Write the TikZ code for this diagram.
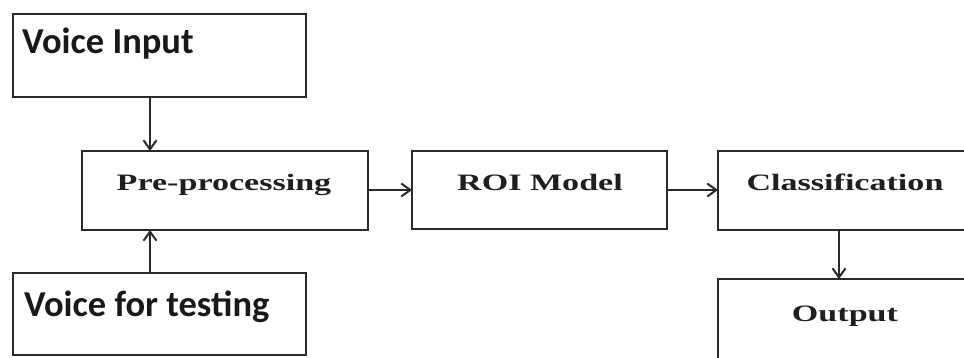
\documentclass[tikz,border=0pt]{standalone}
\usepackage{fontspec}
\usepackage{graphicx}
\usetikzlibrary{arrows.meta}
\newfontfamily\boxsans{Carlito}
\newfontfamily\boxserif{Liberation Serif}
\definecolor{ink}{HTML}{2A2A2A}
\newcommand\widetxt[1]{\scalebox{1.45}[1]{#1}}
\tikzset{
  box/.style={draw=ink, line width=2.3pt, anchor=north west, inner sep=0pt, outer sep=0pt},
  sanslab/.style={font=\boxsans\bfseries\fontsize{36.5pt}{40pt}\selectfont, text=black!90, inner sep=0pt, anchor=base west},
  seriflab/.style={font=\boxserif\bfseries\fontsize{23.5pt}{28pt}\selectfont, text=black!88, inner sep=0pt, anchor=base},
  arr/.style={draw=ink, line width=2pt, -{Straight Barb[length=9pt,width=13pt,line width=2pt]}}
}
\begin{document}
\begin{tikzpicture}[x=1pt,y=-1pt]
\useasboundingbox (0,0) rectangle (964,358);
\clip (0,0) rectangle (964,358);
\fill[white] (0,0) rectangle (964,358);
% boxes
\node[box, minimum width=293pt, minimum height=83pt] (vin) at (13,14) {};
\node[box, minimum width=286pt, minimum height=79pt] (pre) at (82,151) {};
\node[box, minimum width=255pt, minimum height=78pt] (roi) at (412,151) {};
\node[box, minimum width=280pt, minimum height=79pt] (cls) at (718,151) {};
\node[box, minimum width=280pt, minimum height=110pt] (out) at (718,279) {};
\node[box, minimum width=293pt, minimum height=82pt] (vts) at (13,273) {};
% labels
\node[sanslab] (vinT) at (22,54) {Voice Input};
\node[sanslab] (vtsT) at (24,316) {Voice for testing};
\node[seriflab] (preT) at (224,191) {\widetxt{Pre-processing}};
\node[seriflab] (roiT) at (540,191) {\widetxt{ROI Model}};
\node[seriflab] (clsT) at (845,191) {\widetxt{Classification}};
\node[seriflab] (outT) at (845,321) {\widetxt{Output}};
% connector guides
\coordinate (xa) at (150,0);
\coordinate (xb) at (839,0);
\coordinate (ym) at (0,190);
% connectors
\draw[arr] (vin.south -| xa) -- (pre.north -| xa);
\draw[arr] (vts.north -| xa) -- (pre.south -| xa);
\draw[arr] (pre.east |- ym) -- (roi.west |- ym);
\draw[arr] (roi.east |- ym) -- (cls.west |- ym);
\draw[arr] (cls.south -| xb) -- (out.north -| xb);
\end{tikzpicture}
\end{document}
